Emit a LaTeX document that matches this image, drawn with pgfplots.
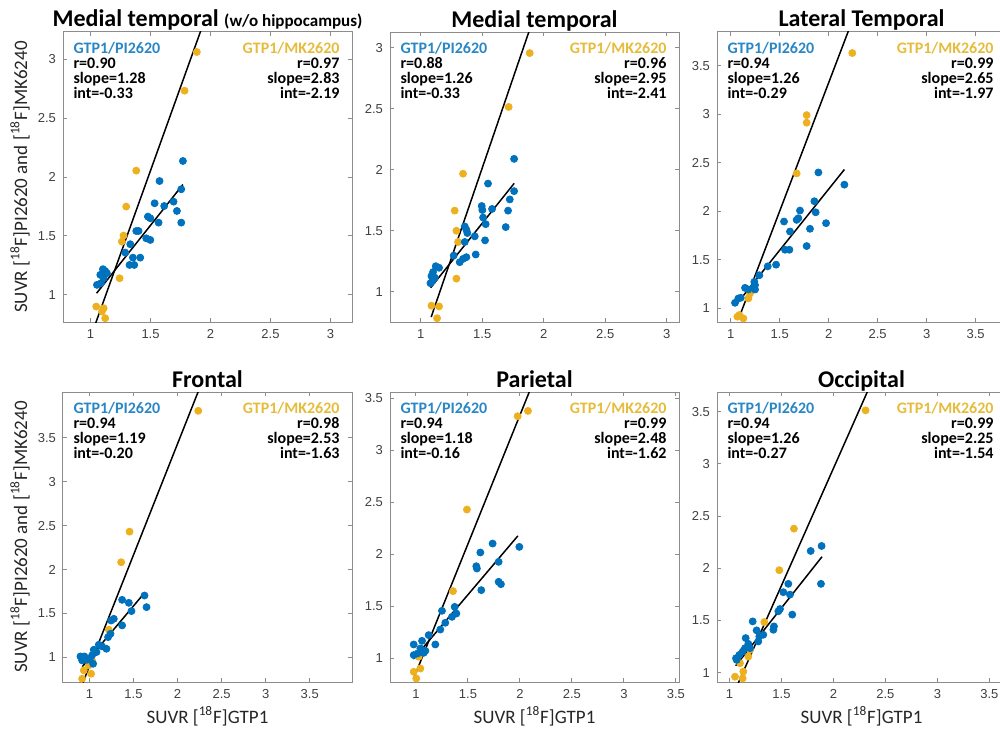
\documentclass[border=0pt]{standalone}
\usepackage{fontspec}
\setmainfont{Carlito}
\newfontfamily\tickfont{Liberation Sans}
\usepackage{pgfplots}
\pgfplotsset{compat=1.18}
\definecolor{mblue}{HTML}{0072BD}
\definecolor{myel}{HTML}{EDB120}
\definecolor{tblue}{HTML}{2A86C4}
\definecolor{tyel}{HTML}{E6BC3C}
\definecolor{axgray}{HTML}{8C8C8C}
\definecolor{tickgray}{HTML}{404040}
\definecolor{labgray}{HTML}{262626}

\pgfplotsset{
  every axis title shift=0pt,
  panel/.style={
    width=144.5pt, height=145pt, scale only axis,
    axis line style={axgray, line width=0.5pt},
    tick style={axgray, line width=0.5pt},
    major tick length=2pt,
    tick align=inside,
    tick label style={font=\tickfont\fontsize{6.5}{7}\selectfont, text=tickgray},
    /pgf/number format/assume math mode=true,
    title style={font=\bfseries\fontsize{12}{14}\selectfont, at={(0.5,1)}, anchor=base, yshift=2.5pt},
    every axis x label/.style={at={(axis description cs:0.5,-0.117)}, anchor=center, font=\fontsize{9.5}{11}\selectfont, text=labgray},
    every axis y label/.style={at={(axis description cs:-0.149,0.5)}, rotate=90, anchor=center, font=\fontsize{9.5}{11}\selectfont, text=labgray},
    clip=true,
  },
  ydots/.style={only marks, mark=*, mark size=1.75pt, mark options={fill=myel, draw=myel}},
  bdots/.style={only marks, mark=*, mark size=1.75pt, mark options={fill=mblue, draw=mblue}},
  fitline/.style={black, line width=0.75pt, no marks},
}
\newcommand\annofont{\bfseries\fontsize{8}{7.5}\selectfont}
\newcommand\anno[6]{%
  \node[anchor=north west, align=left, font=\annofont, inner sep=0pt] at (rel axis cs:0.035,0.966)
    {\textcolor{tblue}{GTP1/PI2620}\\r=#1\\slope=#2\\int=#3};
  \node[anchor=north east, align=right, font=\annofont, inner sep=0pt] at (rel axis cs:0.958,0.966)
    {\textcolor{tyel}{GTP1/MK2620}\\r=#4\\slope=#5\\int=#6};
}

\begin{document}
\begin{tikzpicture}
\path[use as bounding box] (0pt,0pt) rectangle (500pt,365pt);

% ---------------- Panel 1 ----------------
\begin{axis}[panel, at={(31.5pt,204pt)}, anchor=south west,
  xmin=0.77, xmax=3.18, ymin=0.77, ymax=3.23,
  xtick={1,1.5,2,2.5,3}, ytick={1,1.5,2,2.5,3},
  title={Medial temporal {\fontsize{8.5}{10}\selectfont (w/o hippocampus)}},
  ylabel={SUVR [\textsuperscript{18}F]PI2620 and [\textsuperscript{18}F]MK6240}]
\addplot[ydots] coordinates {(1.886,3.06)(1.784,2.732)(1.381,2.054)(1.297,1.749)(1.275,1.503)(1.261,1.452)(1.242,1.141)(1.047,0.901)(1.109,0.887)(1.095,0.859)(1.122,0.802)};
\addplot[bdots] coordinates {(1.770,2.136)(1.575,1.966)(1.756,1.896)(1.534,1.777)(1.692,1.791)(1.614,1.754)(1.720,1.712)(1.478,1.664)(1.498,1.650)(1.567,1.613)(1.756,1.613)(1.381,1.542)(1.400,1.542)(1.464,1.480)(1.498,1.466)(1.331,1.430)(1.289,1.359)(1.353,1.316)(1.414,1.316)(1.325,1.254)(1.364,1.254)(1.103,1.218)(1.122,1.203)(1.081,1.170)(1.109,1.141)(1.053,1.085)(1.086,1.099)(1.136,1.184)};
\addplot[fitline] coordinates {(1.03,0.725)(2.0,3.47)};
\addplot[fitline] coordinates {(1.05,1.014)(1.77,1.936)};
\anno{0.90}{1.28}{-0.33}{0.97}{2.83}{-2.19}
\end{axis}

% ---------------- Panel 2 ----------------
\begin{axis}[panel, at={(195pt,204pt)}, anchor=south west,
  xmin=0.75, xmax=3.10, ymin=0.75, ymax=3.13,
  xtick={1,1.5,2,2.5,3}, ytick={1,1.5,2,2.5,3},
  title={Medial temporal}]
\addplot[ydots] coordinates {(1.886,2.957)(1.715,2.515)(1.344,1.967)(1.276,1.664)(1.290,1.499)(1.304,1.407)(1.290,1.106)(1.087,0.884)(1.149,0.878)(1.133,0.781)};
\addplot[bdots] coordinates {(1.759,2.089)(1.547,1.886)(1.759,1.824)(1.724,1.756)(1.496,1.702)(1.501,1.669)(1.580,1.678)(1.710,1.664)(1.507,1.607)(1.528,1.553)(1.691,1.529)(1.358,1.534)(1.371,1.507)(1.379,1.480)(1.439,1.453)(1.523,1.420)(1.358,1.407)(1.447,1.304)(1.371,1.282)(1.344,1.268)(1.317,1.241)(1.268,1.295)(1.122,1.208)(1.149,1.195)(1.100,1.160)(1.087,1.127)(1.095,1.087)(1.079,1.068)(1.114,1.114)};
\addplot[fitline] coordinates {(1.085,0.791)(1.95,3.34)};
\addplot[fitline] coordinates {(1.08,1.031)(1.76,1.888)};
\anno{0.88}{1.26}{-0.33}{0.96}{2.95}{-2.41}
\end{axis}

% ---------------- Panel 3 ----------------
\begin{axis}[panel, at={(358.5pt,204pt)}, anchor=south west,
  xmin=0.86, xmax=3.81, ymin=0.86, ymax=3.85,
  xtick={1,1.5,2,2.5,3,3.5}, ytick={1,1.5,2,2.5,3,3.5},
  title={Lateral Temporal}]
\addplot[ydots] coordinates {(2.241,3.633)(1.775,2.993)(1.775,2.915)(1.673,2.392)(1.197,1.154)(1.180,1.103)(1.190,1.178)(1.088,0.932)(1.129,0.897)(1.068,0.915)};
\addplot[bdots] coordinates {(1.895,2.402)(2.160,2.276)(1.854,2.105)(1.867,1.991)(1.707,2.009)(1.690,1.930)(1.673,1.913)(1.544,1.896)(1.973,1.879)(1.605,1.793)(1.809,1.821)(1.775,1.643)(1.599,1.605)(1.554,1.605)(1.463,1.451)(1.378,1.434)(1.292,1.342)(1.241,1.274)(1.146,1.212)(1.180,1.195)(1.231,1.212)(1.248,1.240)(1.078,1.103)(1.044,1.058)(1.102,1.110)(1.248,1.195)};
\addplot[fitline] coordinates {(1.085,0.905)(2.25,3.99)};
\addplot[fitline] coordinates {(1.05,1.033)(2.16,2.432)};
\anno{0.94}{1.26}{-0.29}{0.99}{2.65}{-1.97}
\end{axis}

% ---------------- Panel 4 ----------------
\begin{axis}[panel, at={(31.5pt,24pt)}, anchor=south west,
  xmin=0.70, xmax=3.98, ymin=0.72, ymax=4.02,
  xtick={1,1.5,2,2.5,3,3.5}, ytick={1,1.5,2,2.5,3,3.5},
  title={Frontal},
  xlabel={SUVR [\textsuperscript{18}F]GTP1},
  ylabel={SUVR [\textsuperscript{18}F]PI2620 and [\textsuperscript{18}F]MK6240}]
\addplot[ydots] coordinates {(2.235,3.806)(1.455,2.431)(1.360,2.083)(1.220,1.314)(0.992,0.909)(1.019,0.814)(0.936,0.852)(0.917,0.757)(1.030,0.966)};
\addplot[bdots] coordinates {(1.625,1.704)(1.648,1.572)(1.371,1.655)(1.447,1.621)(1.477,1.527)(1.277,1.439)(1.246,1.420)(1.371,1.364)(1.239,1.269)(1.212,1.231)(1.144,1.125)(1.193,1.098)(1.049,1.087)(1.080,1.061)(1.030,1.023)(0.898,1.011)(0.943,1.011)(0.973,0.973)(1.004,0.985)(1.106,1.144)(1.042,0.928)(0.917,0.966)};
\addplot[fitline] coordinates {(0.92,0.698)(2.3,4.19)};
\addplot[fitline] coordinates {(0.92,0.895)(1.63,1.74)};
\anno{0.94}{1.19}{-0.20}{0.98}{2.53}{-1.63}
\end{axis}

% ---------------- Panel 5 ----------------
\begin{axis}[panel, at={(195pt,24pt)}, anchor=south west,
  xmin=0.75, xmax=3.53, ymin=0.77, ymax=3.56,
  xtick={1,1.5,2,2.5,3,3.5}, ytick={1,1.5,2,2.5,3,3.5},
  title={Parietal},
  xlabel={SUVR [\textsuperscript{18}F]GTP1}]
\addplot[ydots] coordinates {(2.077,3.378)(1.978,3.327)(1.490,2.429)(1.356,1.644)(0.978,0.868)(1.042,0.900)(1.003,0.804)(1.026,1.013)};
\addplot[bdots] coordinates {(1.994,2.070)(1.737,2.102)(1.619,2.016)(1.795,1.926)(1.580,1.884)(1.586,1.862)(1.795,1.734)(1.817,1.711)(1.628,1.654)(1.372,1.493)(1.250,1.455)(1.388,1.429)(1.346,1.397)(1.282,1.340)(1.234,1.275)(1.122,1.221)(1.186,1.131)(1.058,1.166)(0.978,1.131)(1.042,1.093)(1.074,1.051)(0.978,1.029)(1.016,1.045)(1.090,1.070)};
\addplot[fitline] coordinates {(0.975,0.798)(2.15,3.71)};
\addplot[fitline] coordinates {(0.975,0.991)(1.98,2.176)};
\anno{0.94}{1.18}{-0.16}{0.99}{2.48}{-1.62}
\end{axis}

% ---------------- Panel 6 ----------------
\begin{axis}[panel, at={(358.5pt,24pt)}, anchor=south west,
  xmin=0.88, xmax=3.66, ymin=0.91, ymax=3.69,
  xtick={1,1.5,2,2.5,3,3.5}, ytick={1,1.5,2,2.5,3,3.5},
  title={Occipital},
  xlabel={SUVR [\textsuperscript{18}F]GTP1}]
\addplot[ydots] coordinates {(2.309,3.514)(1.620,2.380)(1.479,1.982)(1.335,1.485)(1.197,1.218)(1.181,1.154)(1.133,1.010)(1.053,0.961)(1.127,0.945)(1.101,1.090)};
\addplot[bdots] coordinates {(1.886,2.214)(1.781,2.166)(1.880,1.851)(1.566,1.851)(1.518,1.771)(1.582,1.748)(1.486,1.610)(1.470,1.588)(1.604,1.556)(1.223,1.491)(1.428,1.443)(1.422,1.411)(1.261,1.405)(1.325,1.363)(1.287,1.347)(1.277,1.299)(1.156,1.331)(1.181,1.276)(1.149,1.234)(1.127,1.202)(1.095,1.170)(1.063,1.138)(1.069,1.122)(1.197,1.234)};
\addplot[fitline] coordinates {(1.07,0.868)(2.45,3.97)};
\addplot[fitline] coordinates {(1.06,1.066)(1.89,2.111)};
\anno{0.94}{1.26}{-0.27}{0.99}{2.25}{-1.54}
\end{axis}
\end{tikzpicture}
\end{document}
